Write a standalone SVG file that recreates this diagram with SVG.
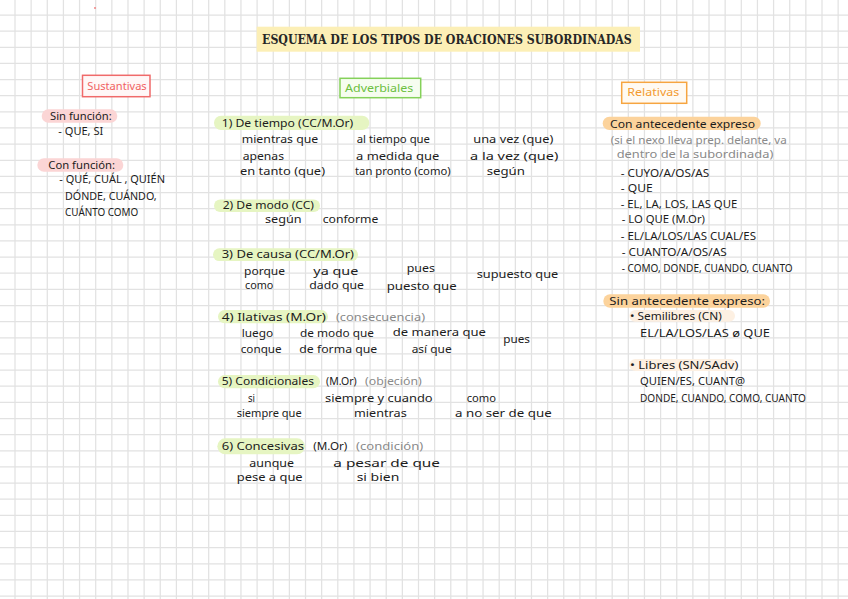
<svg xmlns="http://www.w3.org/2000/svg" width="848" height="599" viewBox="0 0 848 599">
<style>
.grid{stroke:#e2e2e2;stroke-width:1.25;fill:none}
.t{font-family:"Noto Sans","DejaVu Sans",sans-serif;font-size:10.5px;fill:#1c1c1c}
.c{font-family:"Noto Sans","DejaVu Sans",sans-serif;font-size:10px;fill:#1c1c1c}
.g{fill:#8a8a8a}
.pk{fill:#fbd5d5}
.gr{fill:#e6f5c2}
.or{fill:#fcd39c}
.po{fill:#fdf0e2}
</style>
<rect width="848" height="599" fill="#ffffff"/>
<path class="grid" d="M15 0V599M31.14 0V599M47.28 0V599M63.42 0V599M79.56 0V599M95.7 0V599M111.84 0V599M127.98 0V599M144.12 0V599M160.26 0V599M176.4 0V599M192.54 0V599M208.68 0V599M224.82 0V599M240.96 0V599M257.1 0V599M273.24 0V599M289.38 0V599M305.52 0V599M321.66 0V599M337.8 0V599M353.94 0V599M370.08 0V599M386.22 0V599M402.36 0V599M418.5 0V599M434.64 0V599M450.78 0V599M466.92 0V599M483.06 0V599M499.2 0V599M515.34 0V599M531.48 0V599M547.62 0V599M563.76 0V599M579.9 0V599M596.04 0V599M612.18 0V599M628.32 0V599M644.46 0V599M660.6 0V599M676.74 0V599M692.88 0V599M709.02 0V599M725.16 0V599M741.3 0V599M757.44 0V599M773.58 0V599M789.72 0V599M805.86 0V599M822 0V599M838.14 0V599M0 15H848M0 31.14H848M0 47.28H848M0 63.42H848M0 79.56H848M0 95.7H848M0 111.84H848M0 127.98H848M0 144.12H848M0 160.26H848M0 176.4H848M0 192.54H848M0 208.68H848M0 224.82H848M0 240.96H848M0 257.1H848M0 273.24H848M0 289.38H848M0 305.52H848M0 321.66H848M0 337.8H848M0 353.94H848M0 370.08H848M0 386.22H848M0 402.36H848M0 418.5H848M0 434.64H848M0 450.78H848M0 466.92H848M0 483.06H848M0 499.2H848M0 515.34H848M0 531.48H848M0 547.62H848M0 563.76H848M0 579.9H848M0 596.04H848"/>
<circle cx="95" cy="8" r="0.9" fill="#f07a7a"/>

<g id="title">
<rect x="256.7" y="26.7" width="383.3" height="25" fill="#fcefb6"/>
<text x="262" y="44.3" textLength="369.7" lengthAdjust="spacingAndGlyphs" style="font-family:'DejaVu Serif','Liberation Serif',serif;font-size:12px;font-weight:bold;fill:#262626">ESQUEMA DE LOS TIPOS DE ORACIONES SUBORDINADAS</text>
</g>

<g id="sustantivas">
<rect x="82.5" y="75.3" width="67.5" height="21.4" fill="#fff7f7" stroke="#f06a6a" stroke-width="1.5"/>
<text class="t" x="87.3" y="90" textLength="59.4" lengthAdjust="spacingAndGlyphs" style="fill:#f06262">Sustantivas</text>
</g>
<g id="sin-funcion">
<rect class="pk" x="41.7" y="109.3" width="75.6" height="13.4" rx="6.7"/>
<text class="t" x="50" y="120" textLength="61.7" lengthAdjust="spacingAndGlyphs">Sin función:</text>
<text class="c" x="58.3" y="135" textLength="45" lengthAdjust="spacingAndGlyphs">- QUE, SI</text>
</g>
<g id="con-funcion">
<rect class="pk" x="37.3" y="158.3" width="86" height="13.4" rx="6.7"/>
<text class="t" x="48.3" y="168.7" textLength="66.7" lengthAdjust="spacingAndGlyphs">Con función:</text>
<text class="c" x="59.3" y="183.3" textLength="105.7" lengthAdjust="spacingAndGlyphs">- QUÉ, CUÁL , QUIÉN</text>
<text class="c" x="65" y="200" textLength="91.7" lengthAdjust="spacingAndGlyphs">DÓNDE, CUÁNDO,</text>
<text class="c" x="65" y="216" textLength="73.3" lengthAdjust="spacingAndGlyphs">CUÁNTO COMO</text>
</g>

<g id="adverbiales">
<rect x="340" y="78.3" width="80.7" height="19.4" fill="#f6fdf0" stroke="#85d15a" stroke-width="1.5"/>
<text class="t" x="345" y="92" textLength="68.3" lengthAdjust="spacingAndGlyphs" style="fill:#6cc040">Adverbiales</text>
</g>
<g id="tiempo">
<rect class="gr" x="214" y="115.7" width="155.3" height="14.3" rx="7.1"/>
<text class="t" x="221.7" y="126.7" textLength="131.6" lengthAdjust="spacingAndGlyphs">1) De tiempo (CC/M.Or)</text>
<text class="t" x="241.7" y="143.3" textLength="76.6" lengthAdjust="spacingAndGlyphs">mientras que</text>
<text class="t" x="356.7" y="143.3" textLength="73.3" lengthAdjust="spacingAndGlyphs">al tiempo que</text>
<text class="t" x="473.3" y="143.3" textLength="80" lengthAdjust="spacingAndGlyphs">una vez (que)</text>
<text class="t" x="242.7" y="160" textLength="41.3" lengthAdjust="spacingAndGlyphs">apenas</text>
<text class="t" x="356" y="160" textLength="83.3" lengthAdjust="spacingAndGlyphs">a medida que</text>
<text class="t" x="470" y="160" textLength="88.3" lengthAdjust="spacingAndGlyphs">a la vez (que)</text>
<text class="t" x="240" y="175.3" textLength="85" lengthAdjust="spacingAndGlyphs">en tanto (que)</text>
<text class="t" x="355" y="175.3" textLength="95.7" lengthAdjust="spacingAndGlyphs">tan pronto (como)</text>
<text class="t" x="486.7" y="175.3" textLength="38.3" lengthAdjust="spacingAndGlyphs">según</text>
</g>
<g id="modo">
<rect class="gr" x="214" y="199.5" width="106" height="12.5" rx="6.2"/>
<text class="t" x="222.7" y="209" textLength="91.3" lengthAdjust="spacingAndGlyphs">2) De modo (CC)</text>
<text class="t" x="265" y="223.3" textLength="36.7" lengthAdjust="spacingAndGlyphs">según</text>
<text class="t" x="322.7" y="223.3" textLength="55.6" lengthAdjust="spacingAndGlyphs">conforme</text>
</g>
<g id="causa">
<rect class="gr" x="213" y="248.3" width="145" height="12.7" rx="6.3"/>
<text class="t" x="221.7" y="258.3" textLength="132.3" lengthAdjust="spacingAndGlyphs">3) De causa (CC/M.Or)</text>
<text class="t" x="244" y="274.5" textLength="41" lengthAdjust="spacingAndGlyphs">porque</text>
<text class="t" x="313.3" y="274.5" textLength="45" lengthAdjust="spacingAndGlyphs">ya que</text>
<text class="t" x="406.7" y="272.3" textLength="28.3" lengthAdjust="spacingAndGlyphs">pues</text>
<text class="t" x="476.7" y="278.3" textLength="81.6" lengthAdjust="spacingAndGlyphs">supuesto que</text>
<text class="t" x="245" y="289" textLength="28.3" lengthAdjust="spacingAndGlyphs">como</text>
<text class="t" x="309.3" y="289.3" textLength="54.7" lengthAdjust="spacingAndGlyphs">dado que</text>
<text class="t" x="386.7" y="290" textLength="70" lengthAdjust="spacingAndGlyphs">puesto que</text>
</g>
<g id="ilativas">
<rect class="gr" x="218" y="310" width="110" height="13.3" rx="6.6"/>
<text class="t" x="221.7" y="320.7" textLength="104.3" lengthAdjust="spacingAndGlyphs">4) Ilativas (M.Or)</text>
<text class="t g" x="336" y="320.7" textLength="89" lengthAdjust="spacingAndGlyphs">(consecuencia)</text>
<text class="t" x="241.7" y="337.3" textLength="31.6" lengthAdjust="spacingAndGlyphs">luego</text>
<text class="t" x="300" y="337.3" textLength="74" lengthAdjust="spacingAndGlyphs">de modo que</text>
<text class="t" x="392.7" y="336" textLength="93.3" lengthAdjust="spacingAndGlyphs">de manera que</text>
<text class="t" x="503.3" y="342.7" textLength="26.7" lengthAdjust="spacingAndGlyphs">pues</text>
<text class="t" x="240.7" y="353.3" textLength="41" lengthAdjust="spacingAndGlyphs">conque</text>
<text class="t" x="299.3" y="353.3" textLength="78" lengthAdjust="spacingAndGlyphs">de forma que</text>
<text class="t" x="411.7" y="353.3" textLength="40" lengthAdjust="spacingAndGlyphs">así que</text>
</g>
<g id="condicionales">
<rect class="gr" x="218" y="375" width="102" height="13.3" rx="6.6"/>
<text class="t" x="221.7" y="385" textLength="92.3" lengthAdjust="spacingAndGlyphs">5) Condicionales</text>
<text class="t" x="326" y="385" textLength="30.7" lengthAdjust="spacingAndGlyphs">(M.Or)</text>
<text class="t g" x="365" y="385" textLength="56.7" lengthAdjust="spacingAndGlyphs">(objeción)</text>
<text class="t" x="248" y="401.7" textLength="7" lengthAdjust="spacingAndGlyphs">si</text>
<text class="t" x="325" y="401.7" textLength="107.7" lengthAdjust="spacingAndGlyphs">siempre y cuando</text>
<text class="t" x="466.7" y="401.7" textLength="29.3" lengthAdjust="spacingAndGlyphs">como</text>
<text class="t" x="236.7" y="416.7" textLength="65" lengthAdjust="spacingAndGlyphs">siempre que</text>
<text class="t" x="354" y="416.7" textLength="52.7" lengthAdjust="spacingAndGlyphs">mientras</text>
<text class="t" x="455" y="416.7" textLength="96.7" lengthAdjust="spacingAndGlyphs">a no ser de que</text>
</g>
<g id="concesivas">
<rect class="gr" x="217.3" y="438.3" width="87.7" height="16" rx="8"/>
<text class="t" x="221.7" y="450" textLength="82.3" lengthAdjust="spacingAndGlyphs">6) Concesivas</text>
<text class="t" x="313.3" y="450" textLength="34" lengthAdjust="spacingAndGlyphs">(M.Or)</text>
<text class="t g" x="356" y="450" textLength="67.3" lengthAdjust="spacingAndGlyphs">(condición)</text>
<text class="t" x="249.3" y="466.5" textLength="44.7" lengthAdjust="spacingAndGlyphs">aunque</text>
<text class="t" x="333.3" y="466.5" textLength="106.7" lengthAdjust="spacingAndGlyphs">a pesar de que</text>
<text class="t" x="236.7" y="481.2" textLength="66" lengthAdjust="spacingAndGlyphs">pese a que</text>
<text class="t" x="356.7" y="481.2" textLength="42.6" lengthAdjust="spacingAndGlyphs">si bien</text>
</g>

<g id="relativas">
<rect x="621.7" y="82.3" width="65" height="21" fill="#fffaf2" stroke="#f6a540" stroke-width="1.5"/>
<text class="t" x="627.3" y="96" textLength="52" lengthAdjust="spacingAndGlyphs" style="fill:#f39a30">Relativas</text>
</g>
<g id="con-antecedente">
<rect class="or" x="602.7" y="116.7" width="158" height="13.3" rx="6.6"/>
<text class="t" x="610" y="127.7" textLength="145" lengthAdjust="spacingAndGlyphs">Con antecedente expreso</text>
<text class="t g" x="610.7" y="144.3" textLength="176" lengthAdjust="spacingAndGlyphs">(si el nexo lleva prep. delante, va</text>
<text class="t g" x="616.7" y="158.3" textLength="156.6" lengthAdjust="spacingAndGlyphs">dentro de la subordinada)</text>
<text class="c" x="620.7" y="176.7" textLength="88.6" lengthAdjust="spacingAndGlyphs">- CUYO/A/OS/AS</text>
<text class="c" x="620.7" y="192.3" textLength="32" lengthAdjust="spacingAndGlyphs">- QUE</text>
<text class="c" x="620.7" y="207.7" textLength="116.6" lengthAdjust="spacingAndGlyphs">- EL, LA, LOS, LAS QUE</text>
<text class="c" x="621.7" y="223.3" textLength="83.3" lengthAdjust="spacingAndGlyphs">- LO QUE (M.Or)</text>
<text class="c" x="620.7" y="240" textLength="135.3" lengthAdjust="spacingAndGlyphs">- EL/LA/LOS/LAS CUAL/ES</text>
<text class="c" x="621.7" y="255.7" textLength="105" lengthAdjust="spacingAndGlyphs">- CUANTO/A/OS/AS</text>
<text class="c" x="621.7" y="271.7" textLength="171" lengthAdjust="spacingAndGlyphs">- COMO, DONDE, CUANDO, CUANTO</text>
</g>
<g id="sin-antecedente">
<rect class="or" x="603.3" y="294.3" width="166.7" height="13.4" rx="6.7"/>
<text class="t" x="609.3" y="305" textLength="155.7" lengthAdjust="spacingAndGlyphs">Sin antecedente expreso:</text>
<rect class="po" x="629.3" y="310" width="105.7" height="11.7" rx="5.8"/>
<text class="t" x="630" y="320" textLength="91.7" lengthAdjust="spacingAndGlyphs">• Semilibres (CN)</text>
<text class="c" x="640" y="336.7" textLength="130" lengthAdjust="spacingAndGlyphs">EL/LA/LOS/LAS ø QUE</text>
<rect class="po" x="629.3" y="359" width="107.4" height="12" rx="6"/>
<text class="t" x="630" y="369" textLength="108.3" lengthAdjust="spacingAndGlyphs">• Libres (SN/SAdv)</text>
<text class="c" x="640" y="385" textLength="105" lengthAdjust="spacingAndGlyphs">QUIEN/ES, CUANT@</text>
<text class="c" x="640" y="401.7" textLength="166" lengthAdjust="spacingAndGlyphs">DONDE, CUANDO, COMO, CUANTO</text>
</g>
</svg>
